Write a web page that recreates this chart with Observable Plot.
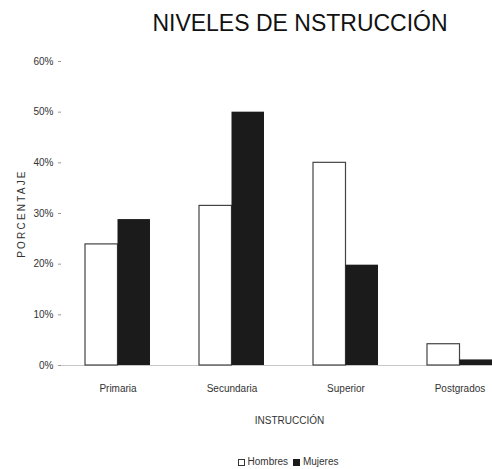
<!DOCTYPE html>
<html><head><meta charset="utf-8">
<script src="https://cdn.jsdelivr.net/npm/d3@7"></script>
<script src="https://cdn.jsdelivr.net/npm/@observablehq/plot@0.6"></script>
<style>
body{margin:0;background:#fff;font-family:"Liberation Sans",Arial,sans-serif;width:492px;height:469px;overflow:hidden;position:relative}
#title{height:45px;box-sizing:border-box;padding-left:108px;text-align:center;font-size:23px;line-height:23px;padding-top:12px;color:#111;white-space:nowrap}
#chart svg{display:block;overflow:visible}
#chart [aria-label="y-axis label"] text{letter-spacing:2.2px}
#legend{position:absolute;left:0;top:456px;width:492px;box-sizing:border-box;padding-left:84px;text-align:center;font-size:10px;line-height:12px;color:#333;font-family:"Liberation Sans Narrow","Liberation Sans",Arial,sans-serif}
.sw{display:inline-block;width:7px;height:7px;vertical-align:-0.5px;margin-right:3px;box-sizing:border-box}
</style></head>
<body>
<div id="title">NIVELES DE NSTRUCCIÓN</div>
<div id="chart"></div>
<div id="legend"><span class="sw" style="border:1px solid #333;background:#fff"></span>Hombres <span class="sw" style="background:#1b1b1b;margin-left:2px"></span>Mujeres</div>
<script>
const categories = ["Primaria", "Secundaria", "Superior", "Postgrados"];
const hombres = [23.9, 31.5, 40.0, 4.2];
const mujeres = [28.8, 50.0, 19.8, 1.1];
const yTicks = [0, 10, 20, 30, 40, 50, 60];
const seriesNames = ["Hombres", "Mujeres"];

const hData = categories.map((c, i) => ({cat: c, sexo: seriesNames[0], v: hombres[i]}));
const mData = categories.map((c, i) => ({cat: c, sexo: seriesNames[1], v: mujeres[i]}));

const chart = Plot.plot({
  width: 492, height: 400,
  marginLeft: 61, marginRight: -25, marginTop: 16, marginBottom: 80,
  style: {fontFamily: '"Liberation Sans Narrow","Liberation Sans",Arial,sans-serif', fontSize: "10px", color: "#333", background: "transparent"},
  x: {domain: categories, paddingInner: 0.429, paddingOuter: 0.214},
  y: {domain: [0, 60]},
  marks: [
    Plot.ruleY([0], {stroke: "#c8c8c8"}),
    Plot.barY(hData, {x: "cat", y: "v", insetRight: 32.5, fill: "white", stroke: "#444", strokeWidth: 1.2}),
    Plot.barY(mData, {x: "cat", y: "v", insetLeft: 32.5, fill: "#1b1b1b"}),
    Plot.axisY({ticks: yTicks, tickFormat: d => d + "%", tickSize: 3, tickPadding: 5, stroke: "#999",
      label: "PORCENTAJE", labelArrow: "none", labelAnchor: "center", labelOffset: 44}),
    Plot.axisX({tickSize: 0, tickPadding: 19, label: "INSTRUCCIÓN", labelArrow: "none", labelAnchor: "center", labelOffset: 58})
  ]
});
document.getElementById("chart").appendChild(chart);
</script>
</body></html>
